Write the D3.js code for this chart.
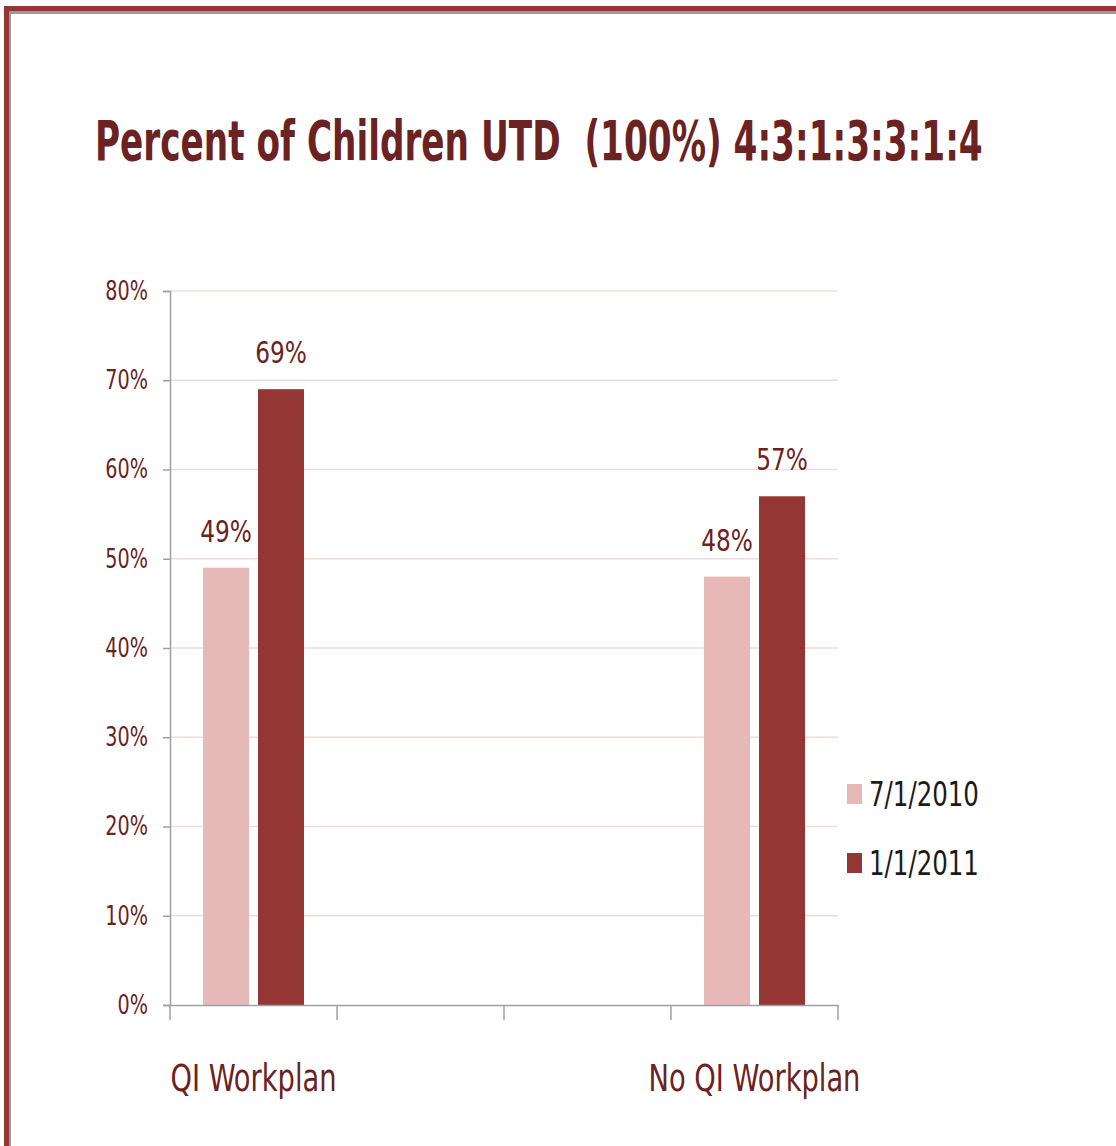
<!DOCTYPE html>
<html>
<head>
<meta charset="utf-8">
<script src="https://cdn.jsdelivr.net/npm/d3@7"></script>
<style>
  body { margin: 0; background: #fff; }
  svg text { font-family: "DejaVu Sans Condensed", "Liberation Sans", sans-serif; }
</style>
</head>
<body>
<svg id="chart" width="1116" height="1146"></svg>
<script>
// chart values
const categories = ["QI Workplan", "blank1", "blank2", "No QI Workplan"];
const categoryLabels = ["QI Workplan", "", "", "No QI Workplan"];
const seriesNames = ["7/1/2010", "1/1/2011"];
const values2010 = [49, null, null, 48];
const values2011 = [69, null, null, 57];
const yTicks = [0, 10, 20, 30, 40, 50, 60, 70, 80];

const colors = ["#e6b8b7", "#943634"];
const textColor = "#6b2222";

const svg = d3.select("#chart");

// squeeze text horizontally to mimic a narrow font
function condense(sel, k) {
  sel.each(function() {
    const w = this.getComputedTextLength();
    if (w > 0) {
      d3.select(this)
        .attr("textLength", w * k)
        .attr("lengthAdjust", "spacingAndGlyphs");
    }
  });
}

// frame
svg.append("rect").attr("x", 4).attr("y", 6).attr("width", 1112).attr("height", 5).attr("fill", "#943634");
svg.append("rect").attr("x", 4).attr("y", 6).attr("width", 5).attr("height", 1140).attr("fill", "#943634");
svg.append("rect").attr("x", 9).attr("y", 11).attr("width", 1107).attr("height", 3).attr("fill", "#9a9a9a");
svg.append("rect").attr("x", 9).attr("y", 11).attr("width", 2).attr("height", 1135).attr("fill", "#9a9a9a");

// title, scaled down horizontally so it spans the same width as the original
const title = svg.append("text")
  .style("font-size", "55px")
  .style("font-weight", "bold")
  .attr("fill", textColor)
  .text("Percent of Children UTD\u00a0\u00a0(100%) 4:3:1:3:3:1:4");
const titleW = title.node().getComputedTextLength();
title.attr("transform", "translate(95,160) scale(" + (888 / titleW) + ",1)");

const x = d3.scaleBand().domain(categories).range([170, 838]);
const x1 = d3.scaleBand().domain(seriesNames).range([33, 134]).paddingInner(0.164);
const y = d3.scaleLinear().domain([0, 80]).range([1005, 291]);

// gridlines
svg.append("g")
  .selectAll("line")
  .data(yTicks.filter(d => d > 0))
  .join("line")
  .attr("x1", 170)
  .attr("x2", 838)
  .attr("y1", d => y(d))
  .attr("y2", d => y(d))
  .attr("stroke", "#f2dcdb")
  .attr("stroke-width", 1.5);

// bars
const series = [values2010, values2011];
seriesNames.forEach((name, si) => {
  const g = svg.append("g");
  const rows = categories.map((c, i) => ({ c: c, v: series[si][i] })).filter(d => d.v != null);
  g.selectAll("rect")
    .data(rows)
    .join("rect")
    .attr("x", d => x(d.c) + x1(name))
    .attr("y", d => y(d.v))
    .attr("width", x1.bandwidth())
    .attr("height", d => y(0) - y(d.v))
    .attr("fill", colors[si]);
  g.selectAll("text")
    .data(rows)
    .join("text")
    .attr("x", d => x(d.c) + x1(name) + x1.bandwidth() / 2)
    .attr("y", d => y(d.v) - 26)
    .attr("text-anchor", "middle")
    .attr("fill", textColor)
    .style("font-size", "30px")
    .text(d => d.v + "%")
    .call(condense, 0.86);
});

// y axis
const yAxis = svg.append("g")
  .attr("transform", "translate(170,0)")
  .call(d3.axisLeft(y).tickValues(yTicks).tickFormat(d => d + "%").tickSize(7).tickPadding(15));
yAxis.select(".domain").attr("stroke", "#a0a0a0").attr("stroke-width", 1.5);
yAxis.selectAll(".tick line").attr("stroke", "#a0a0a0").attr("stroke-width", 1.5);
yAxis.selectAll(".tick text")
  .attr("fill", textColor)
  .style("font-size", "26px")
  .style("font-family", "'DejaVu Sans Condensed', sans-serif")
  .call(condense, 0.82);

// x axis
const xAxis = svg.append("g")
  .attr("transform", "translate(0,1005)")
  .call(d3.axisBottom(x).tickSize(0).tickFormat((d, i) => categoryLabels[i]).tickPadding(60));
xAxis.select(".domain").attr("stroke", "#a0a0a0").attr("stroke-width", 1.5);
xAxis.selectAll(".tick text")
  .attr("fill", textColor)
  .style("font-size", "37px")
  .style("font-family", "'DejaVu Sans Condensed', sans-serif")
  .call(condense, 0.82);
svg.append("g")
  .selectAll("line")
  .data(categories.concat(["end"]))
  .join("line")
  .attr("x1", (d, i) => i < categories.length ? x(d) : x.range()[1])
  .attr("x2", (d, i) => i < categories.length ? x(d) : x.range()[1])
  .attr("y1", 1005)
  .attr("y2", 1020)
  .attr("stroke", "#a0a0a0")
  .attr("stroke-width", 1.5);

// legend
const legend = svg.append("g").attr("transform", "translate(847,784)");
seriesNames.forEach((name, i) => {
  const row = legend.append("g").attr("transform", "translate(0," + i * 69 + ")");
  row.append("rect").attr("width", 15).attr("height", 20).attr("fill", colors[i]);
  row.append("text")
    .attr("x", 22)
    .attr("y", 22)
    .attr("fill", "#1a1a1a")
    .style("font-size", "34px")
    .text(name)
    .call(condense, 0.8);
});
</script>
</body>
</html>
